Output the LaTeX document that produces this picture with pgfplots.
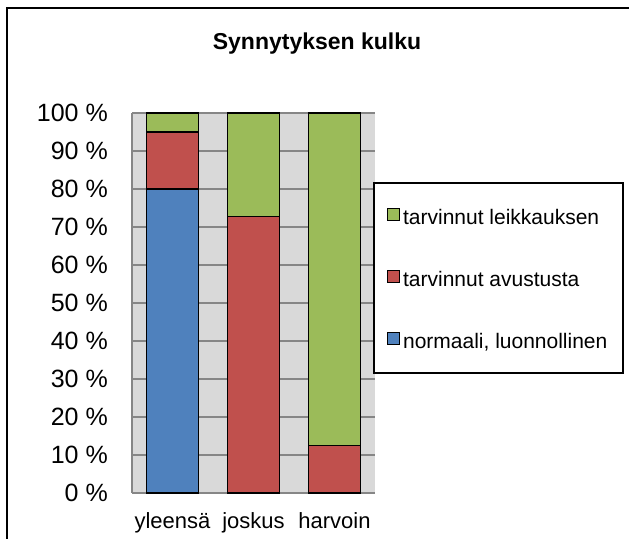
\documentclass[border=0pt]{standalone}
\usepackage{fontspec}
\setmainfont{Liberation Sans}
\usepackage{pgfplots}
\pgfplotsset{compat=1.18}

\definecolor{xlblue}{HTML}{4F81BD}
\definecolor{xlred}{HTML}{C0504D}
\definecolor{xlgreen}{HTML}{9BBB59}
\definecolor{plotbg}{HTML}{D9D9D9}
\definecolor{gridgray}{HTML}{868686}

\begin{document}
\begin{tikzpicture}
\useasboundingbox (0,0) rectangle (629bp,539bp);
\clip (0,0) rectangle (629bp,539bp);
% chart frame (right and bottom edges fall outside the picture)
\draw[line width=1.5bp] (7bp,-20bp) -- (7bp,531bp) -- (660bp,531bp);

\begin{axis}[
    at={(132bp,46bp)}, anchor=south west,
    scale only axis, width=243bp, height=380bp,
    ybar stacked, bar width=0.637,
    xmin=-0.5, xmax=2.5, ymin=0, ymax=100,
    xtick={0,1,2}, xticklabels={yleensä,joskus,harvoin},
    ytick={0,10,...,100},
    yticklabel={\pgfmathprintnumber{\tick}\ \%},
    /pgf/number format/assume math mode=true,
    major tick length=0pt,
    axis x line*=bottom, axis y line*=left,
    axis line style={-, draw=gridgray, line width=1.5bp},
    ymajorgrids, major grid style={draw=gridgray, line width=1.5bp},
    axis background/.style={fill=plotbg},
    xticklabel style={font=\fontsize{22bp}{26bp}\selectfont,
        anchor=base, inner sep=0pt, yshift=-35bp},
    yticklabel style={font=\fontsize{25bp}{29bp}\selectfont,
        anchor=east, inner sep=0pt, xshift=-24bp},
    title={Synnytyksen kulku},
    title style={font=\bfseries\fontsize{23bp}{27bp}\selectfont,
        at={(rel axis cs:0.7613,1)}, anchor=base, inner sep=0pt, yshift=58bp},
    clip=false,
    every axis plot/.append style={draw=black, line width=1.3bp},
    reverse legend, legend cell align=left,
    legend style={draw=none, fill=none,
        at={(axis description cs:1.0494,0.7500)}, anchor=north west,
        inner sep=0pt, row sep=41bp, column sep=3bp,
        font=\fontsize{21bp}{25bp}\selectfont,
        nodes={inner sep=0pt, text height=16bp, text depth=5bp}},
    legend image code/.code={\draw[#1, draw=black, line width=0.9bp] (0bp,-2bp) rectangle (12bp,10bp);},
]
\addplot[fill=xlblue] coordinates {(0,80) (1,0) (2,0)};
\addplot[fill=xlred] coordinates {(0,15) (1,72.7) (2,12.5)};
\addplot[fill=xlgreen] coordinates {(0,5) (1,27.3) (2,87.5)};
\legend{{normaali, luonnollinen}, tarvinnut avustusta, tarvinnut leikkauksen}
\draw[fill=white, line width=1.3bp]
    (axis description cs:0.99588,0.31579) rectangle (axis description cs:2.02058,0.81579);
\end{axis}
\end{tikzpicture}
\end{document}
